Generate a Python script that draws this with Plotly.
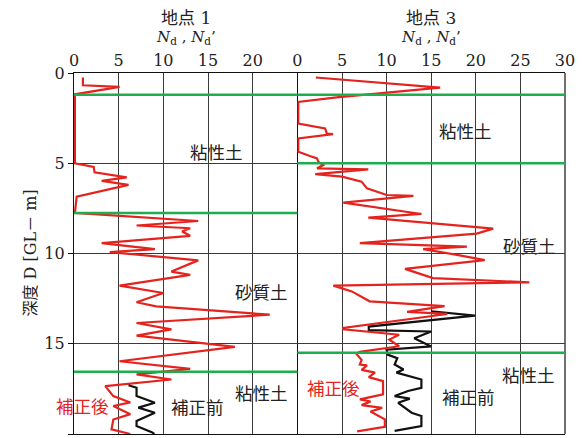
import plotly.graph_objects as go

# ---- 地点 1 : corrected (補正後) and uncorrected (補正前) N-values vs depth ----
site1_after_N = [1.0, 1.0, 5.1, 0.1, 0.1, 2.2, 2.3, 5.9, 3.1, 6.1, 0.3, 0.1,
                 13.9, 7.0, 13.0, 12.1, 13.0, 3.1, 9.05, 4.0, 13.9, 10.9, 13.0,
                 5.1, 10.0, 7.0, 9.2, 21.9, 7.0, 10.9, 7.0, 18.0, 5.1, 13.0,
                 7.0, 10.9, 3.5, 4.4, 6.3, 4.4, 6.3, 4.4, 4.2, 6.3]
site1_after_D = [0.25, 0.68, 0.77, 1.18, 5.0, 5.2, 5.5, 5.78, 5.98, 6.2, 6.85, 7.75,
                 8.2, 8.45, 8.6, 8.78, 9.02, 9.43, 9.76, 9.92, 10.38, 11.0, 11.18,
                 11.78, 12.19, 12.7, 12.93, 13.39, 13.85, 14.2, 14.55, 15.17, 15.97, 16.39,
                 16.7, 16.98, 17.35, 17.9, 18.25, 18.45, 18.9, 19.2, 19.74, 20.0]
site1_before_N = [6.1, 7.0, 7.0, 9.05, 7.2, 9.05, 7.0, 7.0, 8.7, 9.0]
site1_before_D = [17.3, 17.44, 17.9, 18.27, 18.54, 18.82, 19.28, 19.56, 19.9, 20.0]
site1_layers = [1.2, 7.75, 16.55]

# ---- 地点 3 ----
site3_after_N = [2.06, 16.0, 4.4, 0.1, 0.1, 3.1, 3.3, 4.0, 0.1, 0.1, 1.4, 2.2, 2.35,
                 2.9, 2.2, 7.95, 2.0, 5.0, 7.2, 7.8, 10.0, 13.0, 5.15, 13.9, 7.95,
                 21.95, 20.1, 7.0, 19.0, 14.1, 18.2, 21.0, 12.06, 15.2, 26.0, 4.03,
                 6.1, 6.8, 8.1, 16.5, 12.3, 16.8, 5.15, 5.15, 11.4, 10.3, 11.4, 7.0,
                 6.6, 7.2, 7.0, 7.8, 7.2, 8.7, 8.0, 9.6, 9.6, 7.0, 8.2, 7.2, 9.5,
                 8.2, 9.8, 9.8, 6.7]
site3_after_D = [0.25, 0.81, 1.35, 1.6, 2.8, 3.07, 3.35, 3.39, 3.63, 4.36, 4.6, 4.73, 4.92,
                 5.1, 5.28, 5.34, 5.6, 5.74, 6.02, 6.39, 6.76, 6.81, 7.18, 7.81, 8.01,
                 8.62, 8.9, 9.43, 9.62, 9.76, 10.1, 10.37, 10.85, 11.36, 11.6, 11.78,
                 12.1, 12.28, 12.65, 12.92, 13.23, 13.35, 14.12, 14.2, 14.5, 14.77, 15.14, 15.45,
                 15.55, 15.9, 16.15, 16.2, 16.45, 16.6, 16.85, 17.07, 17.8, 18.08, 18.2, 18.4, 18.55,
                 18.75, 19.19, 19.6, 19.85]
site3_before_N = [15.0, 19.9, 8.0, 8.0, 15.0, 13.1, 15.0, 10.0, 10.1, 11.2, 10.9, 11.9,
                  11.1, 12.1, 13.9, 13.9, 12.4, 10.9, 12.6, 11.3, 12.8, 13.9, 13.9, 10.9]
site3_before_D = [13.2, 13.44, 14.05, 14.25, 14.32, 14.7, 15.15, 15.33, 15.6, 15.8, 16.15, 16.43,
                  16.6, 16.75, 16.98, 17.44, 17.62, 17.9, 18.04, 18.27, 18.82, 19.0, 19.56, 19.83]
site3_layers = [1.2, 5.0, 15.5]

x_ticks_1 = [0, 5, 10, 15, 20]
x_ticks_3 = [0, 5, 10, 15, 20, 25, 30]
depth_ticks = [0, 5, 10, 15, 20]

RED = "#e5231e"
BLACK = "#111111"
GREEN = "#1fae4d"
GRID = "#3a3a3a"
TXT = "#222222"
SERIF = "DejaVu Serif, Noto Sans CJK JP"
CJK = "Noto Sans CJK JP"

SPLIT = 0.455

fig = go.Figure()
fig.add_trace(go.Scatter(x=site1_after_N, y=site1_after_D, mode="lines",
                         line=dict(color=RED, width=2.2), xaxis="x", yaxis="y"))
fig.add_trace(go.Scatter(x=site1_before_N, y=site1_before_D, mode="lines",
                         line=dict(color=BLACK, width=2.2), xaxis="x", yaxis="y"))
fig.add_trace(go.Scatter(x=site3_before_N, y=site3_before_D, mode="lines",
                         line=dict(color=BLACK, width=2.2), xaxis="x2", yaxis="y2"))
fig.add_trace(go.Scatter(x=site3_after_N, y=site3_after_D, mode="lines",
                         line=dict(color=RED, width=2.2), xaxis="x2", yaxis="y2"))

# soil layer boundaries
shapes = []
for d in site1_layers:
    shapes.append(dict(type="line", xref="x domain", yref="y", x0=0, x1=1, y0=d, y1=d,
                       line=dict(color=GREEN, width=2.5), layer="above"))
for d in site3_layers:
    shapes.append(dict(type="line", xref="x2 domain", yref="y2", x0=0, x1=1, y0=d, y1=d,
                       line=dict(color=GREEN, width=2.5), layer="above"))
# right-hand frame edge of the second panel
shapes.append(dict(type="line", xref="x2 domain", yref="y2 domain", x0=1, x1=1, y0=0, y1=1,
                   line=dict(color=BLACK, width=1.2), layer="below"))

xcommon = dict(side="top", showline=True, mirror=True, linecolor=BLACK, linewidth=1.2,
               showgrid=True, gridcolor=GRID, gridwidth=1.2, zeroline=False, ticks="",
               tickfont=dict(family=SERIF, size=16, color=TXT), ticklabelstandoff=0,
               layer="below traces", fixedrange=True)
ycommon = dict(range=[20, 0], zeroline=False, showgrid=True, gridcolor=GRID, gridwidth=1.2,
               tickvals=depth_ticks, layer="below traces", fixedrange=True)

fig.update_layout(
    width=583, height=438,
    margin=dict(l=74, r=18, t=73, b=4),
    paper_bgcolor="white", plot_bgcolor="white",
    showlegend=False,
    xaxis=dict(domain=[0, SPLIT], range=[0, 25], tickvals=x_ticks_1, anchor="y", **xcommon),
    xaxis2=dict(domain=[SPLIT, 1], range=[0, 30], tickvals=x_ticks_3, anchor="y2", **xcommon),
    yaxis=dict(anchor="x", ticks="outside", ticklen=5, tickcolor=BLACK, tickwidth=1.2,
               showline=True, mirror=True, linecolor=BLACK, linewidth=1.2,
               tickfont=dict(family=SERIF, size=16, color=TXT), **ycommon),
    yaxis2=dict(anchor="x2", matches="y", showticklabels=False, ticks="",
                showline=False, **ycommon),
    shapes=shapes,
)

ann = []
# panel titles
for xr, name in (("x domain", "地点 1"), ("x2 domain", "地点 3")):
    ann.append(dict(xref=xr, yref="paper", x=0.5, y=1.152, text=name, showarrow=False,
                    font=dict(family=SERIF, size=17, color=TXT), yanchor="middle"))
    ann.append(dict(xref=xr, yref="paper", x=0.5, y=1.097,
                    text="<i>N</i><sub>d</sub> , <i>N</i><sub>d</sub>’", showarrow=False,
                    font=dict(family=SERIF, size=15, color=TXT), yanchor="middle"))

# soil and curve labels
labels = [
    ("x", "y", 15.9, 4.37, "粘性土", TXT),
    ("x", "y", 21.0, 12.1, "砂質土", TXT),
    ("x", "y", 21.0, 17.7, "粘性土", TXT),
    ("x", "y", 0.9, 18.4, "補正後", RED),
    ("x", "y", 13.85, 18.45, "補正前", TXT),
    ("x2", "y2", 18.8, 3.17, "粘性土", TXT),
    ("x2", "y2", 26.06, 9.56, "砂質土", TXT),
    ("x2", "y2", 25.9, 16.7, "粘性土", TXT),
    ("x2", "y2", 4.03, 17.44, "補正後", RED),
    ("x2", "y2", 19.15, 17.9, "補正前", TXT),
]
for xr, yr, xv, yv, t, c in labels:
    ann.append(dict(xref=xr, yref=yr, x=xv, y=yv, text=t, showarrow=False,
                    font=dict(family=CJK, size=17.5, color=c),
                    xanchor="center", yanchor="middle"))

# depth axis title
ann.append(dict(xref="paper", yref="paper", x=-0.0896, y=0.5, text="深度 D [GL－ m]",
                textangle=-90, showarrow=False, xanchor="center", yanchor="middle",
                font=dict(family=SERIF, size=16, color=TXT)))
fig.update_layout(annotations=ann)

fig.write_html("out.html")
